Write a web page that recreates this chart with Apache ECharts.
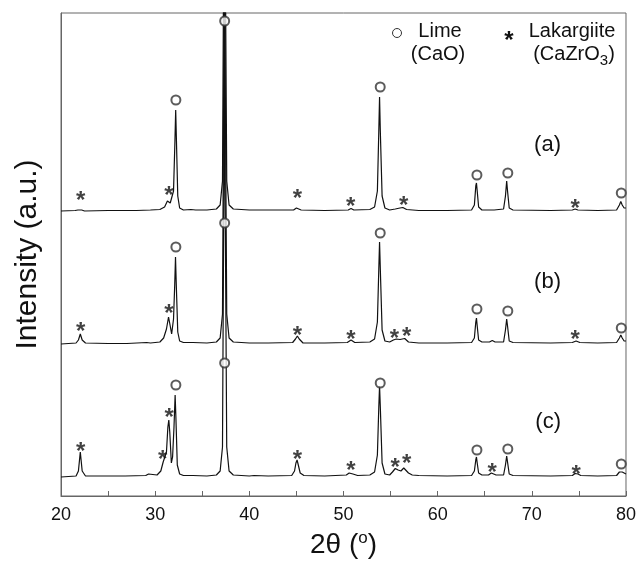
<!DOCTYPE html>
<html>
<head>
<meta charset="utf-8">
<script src="https://cdn.jsdelivr.net/npm/echarts@6/dist/echarts.min.js"></script>
<style>html,body{margin:0;padding:0;background:#fff;}#c{width:639px;height:569px;}</style>
</head>
<body>
<div id="c"></div>
<script>
// 2theta (deg), relative intensity (a.u.)
const traceA = [[20,0],[21.5,0.5],[21.8,1],[22.0,3],[22.2,1],[22.5,0],[25,0.5],[28,0.5],[29.5,1],[30.5,1.5],[31.0,4],[31.3,10],[31.45,12],[31.6,8],[31.75,7],[31.95,20],[32.1,70],[32.18,101],[32.26,70],[32.4,15],[32.6,3],[33,1],[33.8,1.5],[34.0,2.5],[34.3,1],[35.5,1],[36.5,2],[36.9,6],[37.15,30],[37.3,300],[37.36,700],[37.42,300],[37.6,30],[37.85,6],[38.3,2],[40,1],[43,1],[44.7,1],[45.0,3],[45.2,3.5],[45.5,1],[48,0.5],[50.5,1],[50.8,2.5],[51.1,1],[52.8,1.5],[53.3,4],[53.6,20],[53.75,80],[53.83,114],[53.91,80],[54.1,15],[54.4,3],[54.9,1],[55.5,2],[56.0,3],[56.3,3.5],[56.7,1.5],[58,0.5],[61,0.5],[63.6,1],[63.9,6],[64.05,25],[64.12,28],[64.2,20],[64.35,4],[64.7,1],[66,1],[67.0,2],[67.2,15],[67.33,30],[67.42,20],[67.6,3],[68,1],[72,0.5],[74.3,1],[74.6,2],[74.9,1],[77,0.5],[79.0,1],[79.3,6],[79.45,9.5],[79.6,6],[79.8,3],[80,3]];
const traceB = [[20,0],[21.6,1],[21.85,4],[22.05,10],[22.25,4],[22.6,1],[25,0.5],[27,0.5],[29.1,1.5],[29.3,2.5],[29.5,1],[30.5,2],[30.9,6],[31.2,15],[31.42,27],[31.6,18],[31.75,10],[31.95,25],[32.08,60],[32.16,87],[32.24,60],[32.4,12],[32.6,3],[33,1.5],[34,1.5],[35.5,1],[36.5,2],[36.9,6],[37.15,30],[37.3,300],[37.36,700],[37.42,300],[37.6,30],[37.85,6],[38.3,2],[40,1],[42,1],[44.6,1.5],[44.9,5],[45.1,8],[45.3,5],[45.7,1],[48,1],[50.4,1.5],[50.8,4],[51.2,1.5],[52.8,2],[53.3,5],[53.6,22],[53.75,75],[53.83,102],[53.91,75],[54.1,14],[54.4,3],[54.9,2],[55.3,4],[55.6,5],[56.0,4.5],[56.5,5.5],[56.9,2],[58,1],[61,1],[63.6,1.5],[63.9,6],[64.05,22],[64.12,26],[64.2,18],[64.35,4],[64.7,2],[65.5,2],[65.8,3.5],[66.1,2],[67.0,2],[67.2,14],[67.33,25],[67.42,18],[67.6,3],[68,1.5],[72,1],[74.3,1.5],[74.7,3],[75.1,1.5],[77,1],[79.0,1.5],[79.3,6],[79.45,9],[79.6,6],[79.8,3],[80,3]];
const traceC = [[20,0],[21.6,1],[21.85,6],[22.05,25],[22.25,6],[22.6,1],[24.6,1],[24.8,2.5],[25.0,1],[26.4,1],[26.6,2],[26.8,1],[29.0,1.5],[29.3,3],[29.5,1.5],[30.2,2],[30.6,6],[30.85,15],[31.0,13],[31.2,25],[31.35,50],[31.45,57],[31.55,45],[31.72,14],[31.85,20],[32.0,50],[32.12,82],[32.2,60],[32.35,12],[32.6,3],[33,1.5],[34,1.5],[35.5,1],[36.5,2],[36.9,6],[37.15,30],[37.3,300],[37.36,700],[37.42,300],[37.6,30],[37.85,6],[38.3,2],[40,1],[40.5,1.5],[42,1],[44.5,1.5],[44.8,6],[44.95,14],[45.07,17],[45.2,12],[45.4,4],[45.8,1.5],[48,1],[50.3,2],[50.6,4],[50.8,5],[51.0,3],[51.5,1.5],[52.8,2],[53.3,5],[53.6,22],[53.75,70],[53.83,91],[53.91,70],[54.1,14],[54.4,3],[54.9,2],[55.2,5],[55.5,8.5],[55.8,7],[56.1,6],[56.4,9],[56.6,10],[56.9,4],[57.3,2],[58,1.5],[61,1],[63.6,1.5],[63.9,6],[64.05,17],[64.12,20],[64.2,14],[64.35,4],[64.7,2],[65.4,2],[65.7,4],[65.9,4],[66.2,2],[67.0,2],[67.2,12],[67.33,21],[67.42,15],[67.6,3],[68,1.5],[72,1],[74.3,1.5],[74.6,3.5],[74.9,3],[75.2,1.5],[77,1],[79.0,1.5],[79.3,5],[79.45,7],[79.6,5],[79.8,3],[80,3]];

// vertical offsets of the stacked patterns
const offsets = {a: 285, b: 152, c: 19};

// phase marks: [2theta, intensity above baseline]
const limeA = [[32.2,111],[37.38,190],[53.9,124],[64.17,36],[67.45,38],[79.5,18]];
const limeB = [[32.2,97],[37.38,121],[53.9,111],[64.17,35],[67.45,33],[79.5,16]];
const limeC = [[32.2,92],[37.38,114],[53.9,94],[64.17,27],[67.45,28],[79.5,13]];
const lakA = [[22.1,17],[31.45,22],[45.1,19],[50.75,11],[56.4,12],[74.6,9]];
const lakB = [[22.1,19],[31.45,37],[45.1,15],[50.8,11],[55.4,12],[56.7,14],[74.6,11]];
const lakC = [[22.1,32],[30.8,24],[31.5,66],[45.1,24],[50.8,13],[55.5,16],[56.7,20],[65.8,11],[74.7,9]];

const xTicks = [20,30,40,50,60,70,80];
const sampleLabels = ['(a)','(b)','(c)'];

const FONT = 'Liberation Sans, Arial, sans-serif';
const shift = (arr, off) => arr.map(p => [p[0], p[1] + off]);

const lineS = (d, off) => ({
  type: 'line', data: shift(d, off), symbol: 'none', clip: true,
  lineStyle: {color: '#111', width: 1.2}, silent: true, z: 2
});
const limeS = (d, off) => ({
  type: 'scatter', data: shift(d, off), symbol: 'emptyCircle', symbolSize: 9,
  itemStyle: {color: '#333', borderWidth: 1}, silent: true, z: 3
});
const lakS = (d, off) => ({
  type: 'scatter', data: shift(d, off), symbolSize: 0, silent: true, z: 3,
  label: {show: true, formatter: '*', position: 'inside', fontSize: 24, fontWeight: 'bold', fontFamily: FONT, color: '#111', offset: [0, 7]}
});

const chart = echarts.init(document.getElementById('c'), null, {renderer: 'canvas'});
chart.setOption({
  animation: false,
  backgroundColor: '#fff',
  grid: {left: 61, right: 12, top: 13, bottom: 73, show: true, borderColor: '#666', borderWidth: 1, backgroundColor: 'transparent'},
  xAxis: {
    type: 'value', min: 20, max: 80, interval: 10,
    name: '2θ ({sup|o})', nameLocation: 'middle', nameGap: 34,
    nameTextStyle: {fontSize: 28, fontFamily: FONT, color: '#111', rich: {sup: {fontSize: 17, fontFamily: FONT, color: '#111', verticalAlign: 'top', padding: [0, 0, 14, 0]}}},
    axisLine: {lineStyle: {color: '#666'}},
    axisTick: {show: true, inside: true, length: 5, lineStyle: {color: '#666'}},
    minorTick: {show: true, splitNumber: 2, length: 5, lineStyle: {color: '#666'}},
    axisLabel: {fontSize: 18, fontFamily: FONT, color: '#111', margin: 10,
      formatter: v => xTicks.indexOf(v) >= 0 ? String(v) : ''},
    splitLine: {show: false}
  },
  yAxis: {
    type: 'value', min: 0, max: 483,
    name: 'Intensity (a.u.)', nameLocation: 'middle', nameGap: 18, nameRotate: 90,
    nameTextStyle: {fontSize: 30, fontFamily: FONT, color: '#111'},
    axisLine: {show: true, lineStyle: {color: '#666'}},
    axisTick: {show: false}, axisLabel: {show: false}, splitLine: {show: false}
  },
  graphic: [
    {type: 'circle', shape: {cx: 397, cy: 33, r: 4.5}, style: {fill: '#fff', stroke: '#333', lineWidth: 1}},
    {type: 'text', style: {x: 509, y: 41, text: '*', font: 'bold 24px ' + FONT, fill: '#111', textAlign: 'center', textVerticalAlign: 'middle'}},
    {type: 'text', style: {x: 440, y: 31, text: 'Lime', font: '20px ' + FONT, fill: '#111', textAlign: 'center', textVerticalAlign: 'middle'}},
    {type: 'text', style: {x: 438, y: 54, text: '(CaO)', font: '20px ' + FONT, fill: '#111', textAlign: 'center', textVerticalAlign: 'middle'}},
    {type: 'text', style: {x: 572, y: 31, text: 'Lakargiite', font: '20px ' + FONT, fill: '#111', textAlign: 'center', textVerticalAlign: 'middle'}},
    {type: 'text', style: {x: 574, y: 54, text: '(CaZrO{sub|3})', font: '20px ' + FONT, fill: '#111', textAlign: 'center', textVerticalAlign: 'middle',
      rich: {sub: {fontSize: 15, fontFamily: FONT, fill: '#111', padding: [14, 0, 0, 0]}}}},
    {type: 'text', style: {x: 561, y: 145, text: sampleLabels[0], font: '22px ' + FONT, fill: '#111', textAlign: 'right', textVerticalAlign: 'middle'}},
    {type: 'text', style: {x: 561, y: 282, text: sampleLabels[1], font: '22px ' + FONT, fill: '#111', textAlign: 'right', textVerticalAlign: 'middle'}},
    {type: 'text', style: {x: 561, y: 422, text: sampleLabels[2], font: '22px ' + FONT, fill: '#111', textAlign: 'right', textVerticalAlign: 'middle'}}
  ],
  series: [
    lineS(traceC, offsets.c), lineS(traceB, offsets.b), lineS(traceA, offsets.a),
    limeS(limeA, offsets.a), limeS(limeB, offsets.b), limeS(limeC, offsets.c),
    lakS(lakA, offsets.a), lakS(lakB, offsets.b), lakS(lakC, offsets.c)
  ]
});
</script>
</body>
</html>
